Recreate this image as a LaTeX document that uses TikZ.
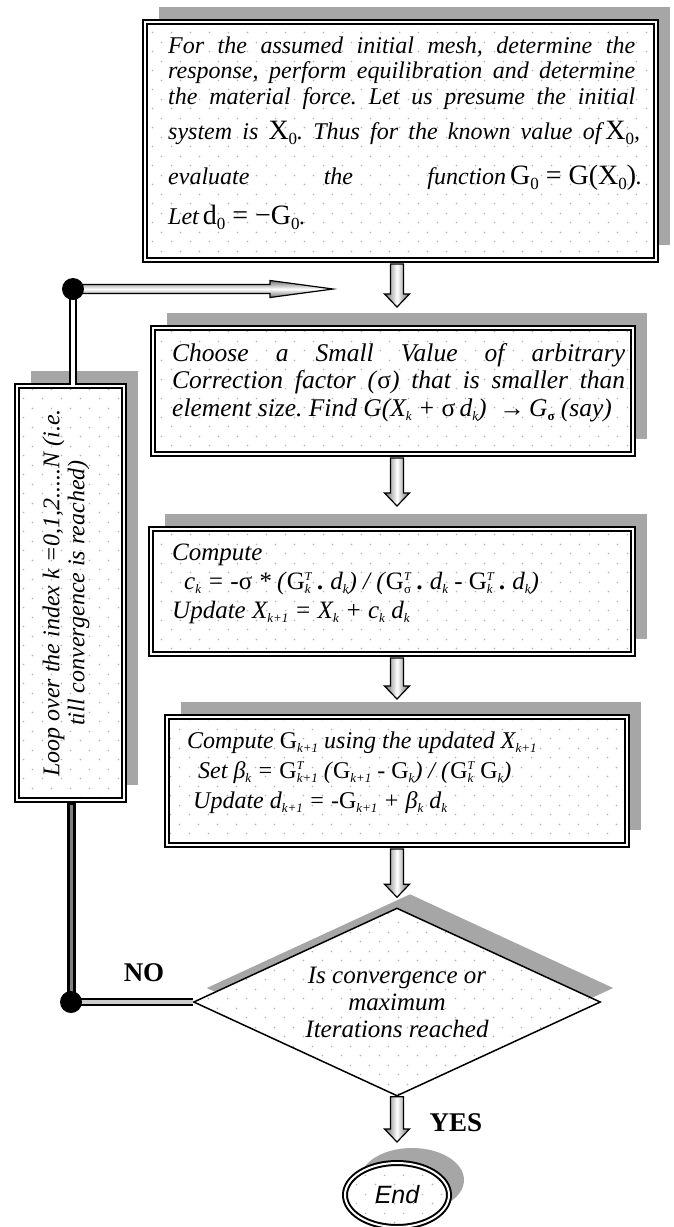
\documentclass[tikz,border=0pt]{standalone}
\usepackage{fontspec}
\setmainfont{Liberation Serif}
\newfontfamily\arialfont{Liberation Sans}
\usetikzlibrary{shapes.geometric,patterns,shadows,calc}
\pgfdeclarelayer{fg}
\pgfsetlayers{main,fg}
\frenchspacing
\pgfdeclarepatternformonly{sdots}{\pgfqpoint{0pt}{0pt}}{\pgfqpoint{18.5pt}{18.5pt}}{\pgfqpoint{18.5pt}{18.5pt}}{%
  \pgfpathcircle{\pgfqpoint{4.6pt}{4.6pt}}{0.85pt}%
  \pgfpathcircle{\pgfqpoint{13.85pt}{13.85pt}}{0.85pt}%
  \pgfusepath{fill}}
\newcommand{\lo}[1]{\raisebox{-4pt}{\fontsize{13}{13}\selectfont #1}}
\newcommand{\hi}[1]{\raisebox{9pt}{\fontsize{12}{12}\selectfont #1}}
\newcommand{\ls}[2]{\setbox0=\hbox{\lo{#1}}\setbox2=\hbox{\hi{#2}}\ifdim\wd0>\wd2 \rlap{\box2}\box0 \else\rlap{\box0}\box2 \fi}
\newcommand{\BIG}[1]{\mbox{\upshape\fontsize{28}{28}\selectfont #1}}
\newcommand{\zlo}{\raisebox{-5pt}{\fontsize{17}{17}\selectfont 0}}
\newcommand{\blockdown}[2]{%
  \shade[blockarr] ($(#1)+(-6.5,0)$) -- ($(#2)+(-6.5,-13)$) -- ($(#2)+(-12.5,-13)$) -- (#2)
    -- ($(#2)+(12.5,-13)$) -- ($(#2)+(6.5,-13)$) -- ($(#1)+(6.5,0)$) -- cycle;}
\begin{document}
\begin{tikzpicture}[x=1pt,y=-1pt,
  shbox/.style={rectangle, draw=black, line width=2pt, double=white, double distance=2pt,
    drop shadow={shadow xshift=14pt, shadow yshift=15pt, fill=black!35, opacity=1},
    preaction={fill=white}, pattern=sdots, pattern color=black!30, inner sep=0pt},
  txt/.style={inner sep=0pt, anchor=base west},
  blockarr/.style={left color=black!60, right color=black!60, middle color=white, draw=black, line width=1.2pt, line join=miter},
  blockarrh/.style={top color=black!55, bottom color=black!55, middle color=white, draw=black, line width=1.2pt, line join=miter},
  blackdot/.style={circle, fill=black, minimum size=22pt, inner sep=0pt},
  dline/.style={draw=black, line width=2.2pt, double=white, double distance=4.5pt},
  greyline/.style={draw=black, line width=1.8pt, double=black!20, double distance=3.5pt},
  lab/.style={inner sep=0pt, font=\bfseries\fontsize{27}{27}\selectfont}
]
\useasboundingbox (0,0) rectangle (674,1227);
\coordinate (ax) at (397,0);

% boxes
\node[shbox, minimum width=511pt, minimum height=238pt] (b1) at (400.5,141) {};
\node[shbox, minimum width=480pt, minimum height=126pt] (b2) at (393,391) {};
\node[shbox, minimum width=482pt, minimum height=125pt] (b3) at (392,591.5) {};
\node[shbox, minimum width=460pt, minimum height=128pt] (b4) at (397,781) {};
\node[shbox, minimum width=107pt, minimum height=414pt] (loop) at (70.5,593) {};
\node[diamond, shape aspect=2.16, draw=black, line width=1.5pt, minimum width=407pt, minimum height=188pt, inner sep=0pt,
  drop shadow={shadow xshift=13pt, shadow yshift=14pt, fill=black!35, opacity=1},
  preaction={fill=white}, pattern=sdots, pattern color=black!30,
  align=center, font=\itshape\fontsize{25}{27}\selectfont] (dia) at (397,1002) {Is convergence or\\maximum\\Iterations reached};
\node[ellipse, draw=black, line width=2pt, double=white, double distance=2pt, minimum width=104pt, minimum height=64pt, inner sep=0pt,
  drop shadow={shadow xshift=15pt, shadow yshift=15pt, fill=black!35, opacity=1},
  preaction={fill=white}, pattern=sdots, pattern color=black!30,
  font=\arialfont\itshape\fontsize{25}{25}\selectfont] (end) at (397,1195) {End};

% texts
\node[txt] (t1) at (168,53) {\parbox[t]{467pt}{\fontsize{24}{25.5}\selectfont\itshape
\makebox[467pt][s]{For the assumed initial mesh, determine the}\\
\makebox[467pt][s]{response, perform equilibration and determine}\\
\makebox[467pt][s]{the material force. Let us presume the initial}\\[9.5pt]
\makebox[472pt][s]{system is \BIG{X\zlo}. Thus for the known value of\,\BIG{X\zlo},}\\[19.5pt]
\makebox[474pt][s]{evaluate the function\,\BIG{G\zlo\ = G(X\zlo)}.}\\[14.5pt]
Let\,\BIG{d\zlo\ = \textminus G\zlo}.}};

\node[txt] (t2) at (172,361) {\parbox[t]{453pt}{\fontsize{25.5}{27.5}\selectfont\itshape
\makebox[453pt][s]{Choose a Small Value of arbitrary}\\
\makebox[453pt][s]{Correction factor (\textup{σ}) that is smaller than}\\
element size. Find G(X\lo{k} + \textup{σ}\,d\lo{k})\ \ \textup{\textbf{→}}\,G\lo{\textbf{\textup{σ}}} (say)}};

\node[txt] (t3) at (172,560) {\parbox[t]{460pt}{\fontsize{25}{29}\selectfont\itshape
Compute\\
\hspace*{12pt}c\lo{k} = -\textup{σ} * (\textup{G}\ls{k}{T} \textbf{.} d\lo{k}) / (\textup{G}\ls{\textup{σ}}{T} \textbf{.} d\lo{k} - \textup{G}\ls{k}{T} \textbf{.} d\lo{k})\\
Update X\lo{k+1} = X\lo{k} + c\lo{k} d\lo{k}}};

\node[txt] (t4) at (187,748) {\parbox[t]{440pt}{\fontsize{24}{30}\selectfont\itshape
Compute \textup{G}\lo{k+1} using the updated X\lo{k+1}\\
\hspace*{11pt}Set β\lo{k} = \textup{G}\ls{k+1}{T} (\textup{G}\lo{k+1} - \textup{G}\lo{k}) / (\textup{G}\ls{k}{T} \textup{G}\lo{k})\\
\hspace*{6pt}Update d\lo{k+1} = -\textup{G}\lo{k+1} + β\lo{k} d\lo{k}}};

\node[rotate=90, align=center, inner sep=0pt, font=\itshape\fontsize{24}{25}\selectfont] (looptxt) at (66,593)
  {Loop over the index k =0,1,2.....N (i.e.\\till convergence is reached)};

\node[lab] (no) at (144,973) {NO};
\node[lab] (yes) at (456,1123) {YES};

% dots
\begin{pgfonlayer}{fg}
\node[blackdot] (T) at (73,289) {};
\node[blackdot] (B) at (71,1002) {};
\end{pgfonlayer}
\coordinate (lt) at (333,289);

% vertical block arrows
\coordinate (a1s) at ($(b1.south -| ax)+(0,3)$);
\coordinate (a1e) at ($(b2.north -| ax)+(0,-20)$);
\coordinate (a2s) at ($(b2.south -| ax)+(0,3)$);
\coordinate (a2e) at ($(b3.north -| ax)+(0,-22)$);
\coordinate (a3s) at ($(b3.south -| ax)+(0,3)$);
\coordinate (a3e) at ($(b4.north -| ax)+(0,-17)$);
\coordinate (a4s) at ($(b4.south -| ax)+(0,3)$);
\coordinate (a4e) at ($(dia.north)+(0,-10)$);
\coordinate (a5s) at (dia.south);
\coordinate (a5e) at ($(end.north)+(0,-20)$);
\blockdown{a1s}{a1e}
\blockdown{a2s}{a2e}
\blockdown{a3s}{a3e}
\blockdown{a4s}{a4e}
\blockdown{a5s}{a5e}

% loop connectors
\draw[dline] (loop.north -| T) -- (T.center);
\draw[line width=9pt, black] (loop.south -| B) -- (B.center);
\draw[line width=3pt, black!50] ($(loop.south -| B)+(0,4)$) -- (B.center);
\draw[greyline] (B.center) -- (dia.west);
\shade[blockarrh] ($(T.center)+(0,-4.5)$) -- ($(lt)+(-63,-4.5)$) -- ($(lt)+(-63,-8.5)$) -- (lt)
  -- ($(lt)+(-63,8.5)$) -- ($(lt)+(-63,4.5)$) -- ($(T.center)+(0,4.5)$) -- cycle;
\end{tikzpicture}
\end{document}
